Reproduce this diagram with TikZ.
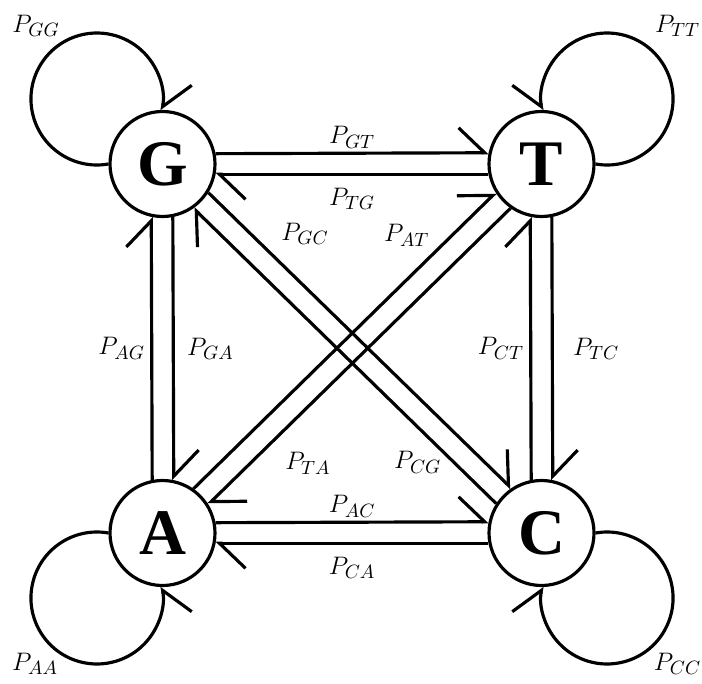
\documentclass[tikz,border=0pt]{standalone}
\usepackage{amsmath}
\usepackage{fontspec}
\newfontfamily\basefont{Liberation Serif}
\usetikzlibrary{arrows.meta,positioning}

\begin{document}
\begin{tikzpicture}[
    node distance=7.58cm,
    line width=1.8pt,
    base/.style={draw, circle, minimum size=2.1cm, inner sep=0pt, font=\basefont\bfseries\fontsize{37}{37}\selectfont},
    prob/.style={font=\fontsize{15.5}{18}\selectfont, inner sep=2pt},
    lbarb/.style={-{Straight Barb[left, length=0.52cm, width=1cm]}},
    rbarb/.style={-{Straight Barb[right, length=0.52cm, width=1cm]}}
]
\useasboundingbox (-3.25,-10.38) rectangle (10.79,3.28);

\node[base] (G) {G};
\node[base, right of=G] (T) {T};
\node[base, below of=G, yshift=0.2cm] (A) {A};
\node[base, right of=A] (C) {C};

\draw[lbarb] (G.11.5) -- node[prob, above] (pGT) {$P_{GT}$} (T.168.5);
\draw[lbarb] (T.191.5) -- node[prob, below=5pt] (pTG) {$P_{TG}$} (G.-11.5);
\draw[lbarb] (A.101.5) -- node[prob, left=1pt] (pAG) {$P_{AG}$} (G.258.5);
\draw[lbarb] (G.281.5) -- node[prob, right=5pt] (pGA) {$P_{GA}$} (A.78.5);
\draw[lbarb] (C.101.5) -- node[prob, left=1pt] (pCT) {$P_{CT}$} (T.258.5);
\draw[lbarb] (T.281.5) -- node[prob, right=9pt] (pTC) {$P_{TC}$} (C.78.5);
\draw[lbarb] (A.11.5) -- node[prob, above] (pAC) {$P_{AC}$} (C.168.5);
\draw[lbarb] (C.191.5) -- node[prob, below=5pt] (pCA) {$P_{CA}$} (A.-11.5);

\draw[lbarb] (G.-32.7) -- node[prob, pos=0.23, xshift=0.54cm, yshift=0.54cm] (pGC) {$P_{GC}$} (C.124.3);
\draw[lbarb] (C.147.3) -- node[prob, pos=0.2, xshift=-0.36cm, yshift=-0.36cm] (pCG) {$P_{CG}$} (G.-55.7);
\draw[lbarb] (A.55.7) -- node[prob, pos=0.78, xshift=-0.45cm, yshift=0.45cm] (pAT) {$P_{AT}$} (T.212.7);
\draw[lbarb] (T.235.7) -- node[prob, pos=0.765, xshift=0.57cm, yshift=-0.57cm] (pTA) {$P_{TA}$} (A.32.7);

\draw[lbarb] (G.west) arc[start angle=-80, end angle=-370, radius=1.32cm];
\draw[rbarb] (T.east) arc[start angle=-100, end angle=190, radius=1.32cm];
\draw[rbarb] (A.west) arc[start angle=80, end angle=370, radius=1.32cm];
\draw[lbarb] (C.east) arc[start angle=100, end angle=-190, radius=1.32cm];

\node[prob] (pGG) at ([shift={(-2.53,2.76)}]G.center) {$P_{GG}$};
\node[prob] (pTT) at ([shift={(2.72,2.76)}]T.center) {$P_{TT}$};
\node[prob] (pAA) at ([shift={(-2.55,-2.62)}]A.center) {$P_{AA}$};
\node[prob] (pCC) at ([shift={(2.72,-2.62)}]C.center) {$P_{CC}$};

\end{tikzpicture}
\end{document}
